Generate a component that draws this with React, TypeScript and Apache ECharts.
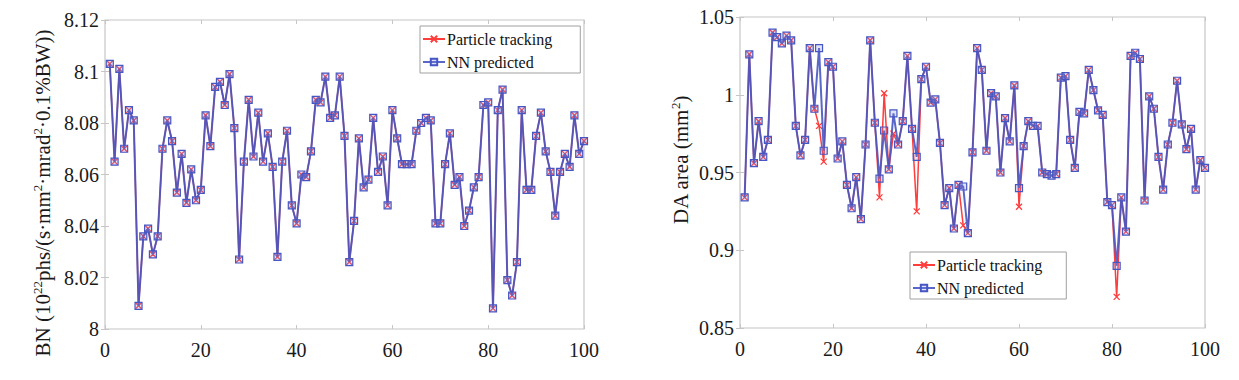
import React, { useEffect, useRef } from "react";
import * as echarts from "echarts";

const xTicks = [0, 20, 40, 60, 80, 100];
const seriesNames = ["Particle tracking", "NN predicted"];

const bnPredicted = [
  8.103, 8.065, 8.101, 8.070, 8.085, 8.081, 8.009, 8.036, 8.039, 8.029,
  8.036, 8.070, 8.081, 8.073, 8.053, 8.068, 8.049, 8.062, 8.050, 8.054,
  8.083, 8.071, 8.094, 8.096, 8.087, 8.099, 8.078, 8.027, 8.065, 8.089,
  8.067, 8.084, 8.065, 8.076, 8.063, 8.028, 8.065, 8.077, 8.048, 8.041,
  8.060, 8.059, 8.069, 8.089, 8.088, 8.098, 8.082, 8.083, 8.098, 8.075,
  8.026, 8.042, 8.074, 8.055, 8.058, 8.082, 8.061, 8.067, 8.048, 8.085,
  8.074, 8.064, 8.064, 8.064, 8.077, 8.080, 8.082, 8.081, 8.041, 8.041,
  8.064, 8.076, 8.056, 8.059, 8.040, 8.046, 8.055, 8.059, 8.087, 8.088,
  8.008, 8.085, 8.093, 8.019, 8.013, 8.026, 8.085, 8.054, 8.054, 8.075,
  8.084, 8.069, 8.061, 8.044, 8.061, 8.068, 8.063, 8.083, 8.068, 8.073,
];
const bnTracking = [
  8.103, 8.065, 8.101, 8.070, 8.085, 8.081, 8.009, 8.036, 8.039, 8.029,
  8.036, 8.070, 8.081, 8.073, 8.053, 8.068, 8.049, 8.062, 8.050, 8.054,
  8.083, 8.071, 8.094, 8.096, 8.087, 8.099, 8.078, 8.027, 8.065, 8.089,
  8.067, 8.084, 8.065, 8.076, 8.063, 8.028, 8.065, 8.077, 8.048, 8.041,
  8.060, 8.059, 8.069, 8.089, 8.088, 8.098, 8.082, 8.083, 8.098, 8.075,
  8.026, 8.042, 8.074, 8.055, 8.058, 8.082, 8.061, 8.067, 8.048, 8.085,
  8.074, 8.064, 8.064, 8.064, 8.077, 8.080, 8.082, 8.081, 8.041, 8.041,
  8.064, 8.076, 8.056, 8.059, 8.040, 8.046, 8.055, 8.059, 8.087, 8.088,
  8.008, 8.085, 8.093, 8.019, 8.013, 8.026, 8.085, 8.054, 8.054, 8.075,
  8.084, 8.069, 8.061, 8.044, 8.061, 8.068, 8.063, 8.083, 8.068, 8.073,
];

const daPredicted = [
  0.934, 1.026, 0.956, 0.983, 0.960, 0.971, 1.040, 1.037, 1.033, 1.038,
  1.035, 0.980, 0.961, 0.971, 1.030, 0.991, 1.030, 0.964, 1.021, 1.018,
  0.959, 0.970, 0.942, 0.927, 0.947, 0.920, 0.968, 1.035, 0.982, 0.946,
  0.977, 0.952, 0.988, 0.968, 0.983, 1.025, 0.978, 0.960, 1.010, 1.018,
  0.995, 0.997, 0.969, 0.929, 0.940, 0.914, 0.942, 0.941, 0.911, 0.963,
  1.030, 1.016, 0.964, 1.001, 0.999, 0.950, 0.985, 0.970, 1.006, 0.940,
  0.967, 0.983, 0.980, 0.980, 0.950, 0.949, 0.948, 0.949, 1.011, 1.012,
  0.971, 0.953, 0.989, 0.988, 1.016, 1.003, 0.990, 0.987, 0.931, 0.929,
  0.890, 0.934, 0.912, 1.025, 1.027, 1.023, 0.932, 0.999, 0.991, 0.960,
  0.939, 0.968, 0.982, 1.009, 0.981, 0.965, 0.978, 0.939, 0.958, 0.953,
];
const daTracking = [
  0.934, 1.026, 0.956, 0.983, 0.960, 0.971, 1.040, 1.037, 1.033, 1.038,
  1.035, 0.980, 0.961, 0.971, 1.030, 0.991, 0.980, 0.957, 1.021, 1.018,
  0.959, 0.970, 0.942, 0.927, 0.947, 0.920, 0.968, 1.035, 0.982, 0.934,
  1.001, 0.952, 0.975, 0.968, 0.983, 1.025, 0.978, 0.925, 1.010, 1.018,
  0.995, 0.997, 0.969, 0.929, 0.940, 0.914, 0.942, 0.916, 0.911, 0.963,
  1.030, 1.016, 0.964, 1.001, 0.999, 0.950, 0.985, 0.970, 1.006, 0.928,
  0.967, 0.983, 0.980, 0.980, 0.950, 0.949, 0.948, 0.949, 1.011, 1.012,
  0.971, 0.953, 0.989, 0.988, 1.016, 1.003, 0.990, 0.987, 0.931, 0.929,
  0.870, 0.934, 0.912, 1.025, 1.027, 1.023, 0.932, 0.999, 0.991, 0.960,
  0.939, 0.968, 0.982, 1.009, 0.981, 0.965, 0.978, 0.939, 0.958, 0.953,
];

const FONT = "'Liberation Serif', 'Times New Roman', serif";
const RED = "#ff3d3d";
const BLUE = "#4656c2";
const BORDER = "#c6c6c6";

const toPairs = (vals: number[]) => vals.map((v, i) => [i + 1, v]);

const xMark = "path://M0,0L10,10M10,0L0,10";

function App() {
  const ref = useRef<HTMLDivElement>(null);

  useEffect(() => {
    if (!ref.current) return;
    const chart = echarts.init(ref.current, null, { renderer: "svg" });

    const fmt = (v: number) => String(+v.toFixed(2));

    const mainX = (gridIndex: number) => ({
      type: "value",
      gridIndex,
      min: xTicks[0],
      max: xTicks[xTicks.length - 1],
      interval: xTicks[1] - xTicks[0],
      axisLine: { show: false },
      axisTick: { show: true, inside: true, length: 4, lineStyle: { color: BORDER } },
      axisLabel: { fontFamily: FONT, fontSize: 20, color: "#1a1a1a", margin: 11 },
      splitLine: { show: false },
    });
    const topX = (gridIndex: number) => ({
      ...mainX(gridIndex),
      position: "top",
      axisLabel: { show: false },
    });
    const mainY = (gridIndex: number, min: number, max: number, interval: number) => ({
      type: "value",
      gridIndex,
      min,
      max,
      interval,
      axisLine: { show: false },
      axisTick: { show: true, inside: true, length: 4, lineStyle: { color: BORDER } },
      axisLabel: { fontFamily: FONT, fontSize: 20, color: "#1a1a1a", margin: 6, formatter: fmt },
      splitLine: { show: false },
    });
    const rightY = (gridIndex: number, min: number, max: number, interval: number) => ({
      ...mainY(gridIndex, min, max, interval),
      position: "right",
      axisLabel: { show: false },
    });

    const redSeries = (data: number[], xi: number, yi: number) => ({
      name: seriesNames[0],
      type: "line",
      xAxisIndex: xi,
      yAxisIndex: yi,
      data: toPairs(data),
      symbol: xMark,
      symbolSize: 6,
      showSymbol: true,
      lineStyle: { color: RED, width: 1.5 },
      itemStyle: { color: "rgba(0,0,0,0)", borderColor: RED, borderWidth: 1.3 },
      z: 2,
    });
    const blueSeries = (data: number[], xi: number, yi: number) => ({
      name: seriesNames[1],
      type: "line",
      xAxisIndex: xi,
      yAxisIndex: yi,
      data: toPairs(data),
      symbol: "rect",
      symbolSize: 7,
      showSymbol: true,
      lineStyle: { color: BLUE, width: 2, opacity: 0.9 },
      itemStyle: { color: "rgba(130,140,225,0.25)", borderColor: BLUE, borderWidth: 1.2 },
      z: 3,
    });

    const legendBase = {
      orient: "vertical",
      data: seriesNames,
      backgroundColor: "#fff",
      borderColor: "#a0a0a0",
      borderWidth: 1,
      borderRadius: 0,
      itemWidth: 22,
      itemHeight: 8,
      itemGap: 7,
      selectedMode: false,
      textStyle: { fontFamily: FONT, fontSize: 16, color: "#111", lineHeight: 16, padding: [0, 0, 0, -3] },
    };

    chart.setOption({
      animation: false,
      backgroundColor: "#fff",
      grid: [
        { left: 105, top: 20, width: 479, height: 309, show: true, borderColor: BORDER, borderWidth: 1.2, backgroundColor: "transparent" },
        { left: 740, top: 17, width: 465, height: 311, show: true, borderColor: BORDER, borderWidth: 1.2, backgroundColor: "transparent" },
      ],
      xAxis: [mainX(0), topX(0), mainX(1), topX(1)],
      yAxis: [
        mainY(0, 8, 8.12, 0.02),
        rightY(0, 8, 8.12, 0.02),
        mainY(1, 0.85, 1.05, 0.05),
        rightY(1, 0.85, 1.05, 0.05),
      ],
      legend: [
        { ...legendBase, left: 420, top: 26, padding: [5, 28, 3, 2] },
        { ...legendBase, left: 910, top: 252, padding: [5, 24, 3, 2] },
      ],
      graphic: [
        {
          type: "text",
          x: 43,
          y: 193,
          rotation: Math.PI / 2,
          style: {
            text: "BN (10{sup|22}phs/(s·mm{sup|2}·mrad{sup|2}·0.1%BW))",
            font: `21px ${FONT}`,
            fill: "#1a1a1a",
            align: "center",
            verticalAlign: "middle",
            rich: { sup: { fontSize: 13, fontFamily: FONT, fill: "#1a1a1a", padding: [0, 0, 12, 0] } },
          },
        },
        {
          type: "text",
          x: 681,
          y: 160,
          rotation: Math.PI / 2,
          style: {
            text: "DA area (mm{sup|2})",
            font: `21px ${FONT}`,
            fill: "#1a1a1a",
            align: "center",
            verticalAlign: "middle",
            rich: { sup: { fontSize: 13, fontFamily: FONT, fill: "#1a1a1a", padding: [0, 0, 12, 0] } },
          },
        },
      ],
      series: [
        redSeries(bnTracking, 0, 0),
        blueSeries(bnPredicted, 0, 0),
        redSeries(daTracking, 2, 2),
        blueSeries(daPredicted, 2, 2),
      ],
    });

    return () => chart.dispose();
  }, []);

  return (
    <div
      ref={ref}
      style={{ position: "fixed", left: 0, top: 0, width: 1239, height: 380, background: "#fff" }}
    />
  );
}

export default App;
